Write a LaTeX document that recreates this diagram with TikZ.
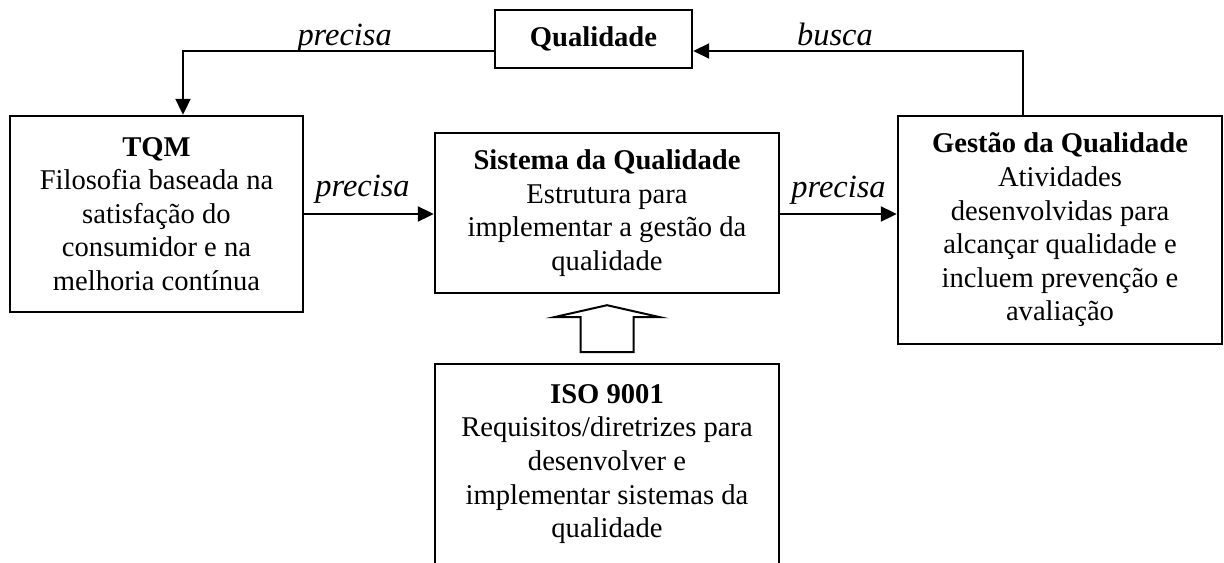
\documentclass[tikz,border=0pt]{standalone}
\usepackage{fontspec}
\setmainfont{Liberation Serif}
\usetikzlibrary{arrows.meta}
\begin{document}
\begin{tikzpicture}[x=0.5pt,y=-0.5pt,
  box/.style={draw,line width=1.2pt,align=center,inner sep=0pt,
    font=\fontsize{14.3}{16.8}\selectfont},
  arr/.style={line width=1pt,-{Triangle[length=8pt,width=7.5pt]}},
  lab/.style={font=\fontsize{16.2}{18}\selectfont\itshape,anchor=base,inner sep=0pt}]
\path[use as bounding box] (0,0) rectangle (1224,562);
\clip (0,0) rectangle (1224,562);
\node[box,minimum width=98.5pt,minimum height=29pt] (qual) at (593.5,39) {\textbf{Qualidade}};
\node[box,minimum width=146.5pt,minimum height=98pt] (tqm) at (156.5,214)
  {\textbf{TQM}\\Filosofia baseada na\\satisfação do\\consumidor e na\\melhoria contínua};
\node[box,minimum width=172pt,minimum height=80pt] (sist) at (607,213)
  {\textbf{Sistema da Qualidade}\\Estrutura para\\implementar a gestão da\\qualidade};
\node[box,minimum width=162pt,minimum height=114pt] (gest) at (1060,230)
  {\textbf{Gestão da Qualidade}\\Atividades\\desenvolvidas para\\alcançar qualidade e\\incluem prevenção e\\avaliação};
\node[box,minimum width=172pt,anchor=north,inner ysep=10pt,text depth=60pt] (iso) at (607,363)
  {\textbf{ISO 9001}\\Requisitos/diretrizes para\\desenvolver e\\implementar sistemas da\\qualidade};
% ligacoes
\coordinate (tl) at (183,51);
\coordinate (tr) at (1023,51);
\draw[arr] (qual.west |- tl) -- node[lab,pos=0.48,yshift=3pt] {precisa} (tl) -- (tl |- tqm.north);
\draw[arr] (gest.north -| tr) -- (tr) -- node[lab,pos=0.57,yshift=3pt] {busca} (qual.east |- tr);
\draw[arr] (tqm.east) -- node[lab,pos=0.45,yshift=9pt] {precisa} (tqm.east -| sist.west);
\draw[arr] (sist.east |- tqm.east) -- node[lab,yshift=8.5pt] {precisa} (tqm.east -| gest.west);
% seta larga
\draw[line width=1pt,shift={(sist.south)}] (0,11) -- (53,23) -- (26.5,23) -- (26.5,58)
  -- (-26.5,58) -- (-26.5,23) -- (-53,23) -- cycle;
\end{tikzpicture}
\end{document}
